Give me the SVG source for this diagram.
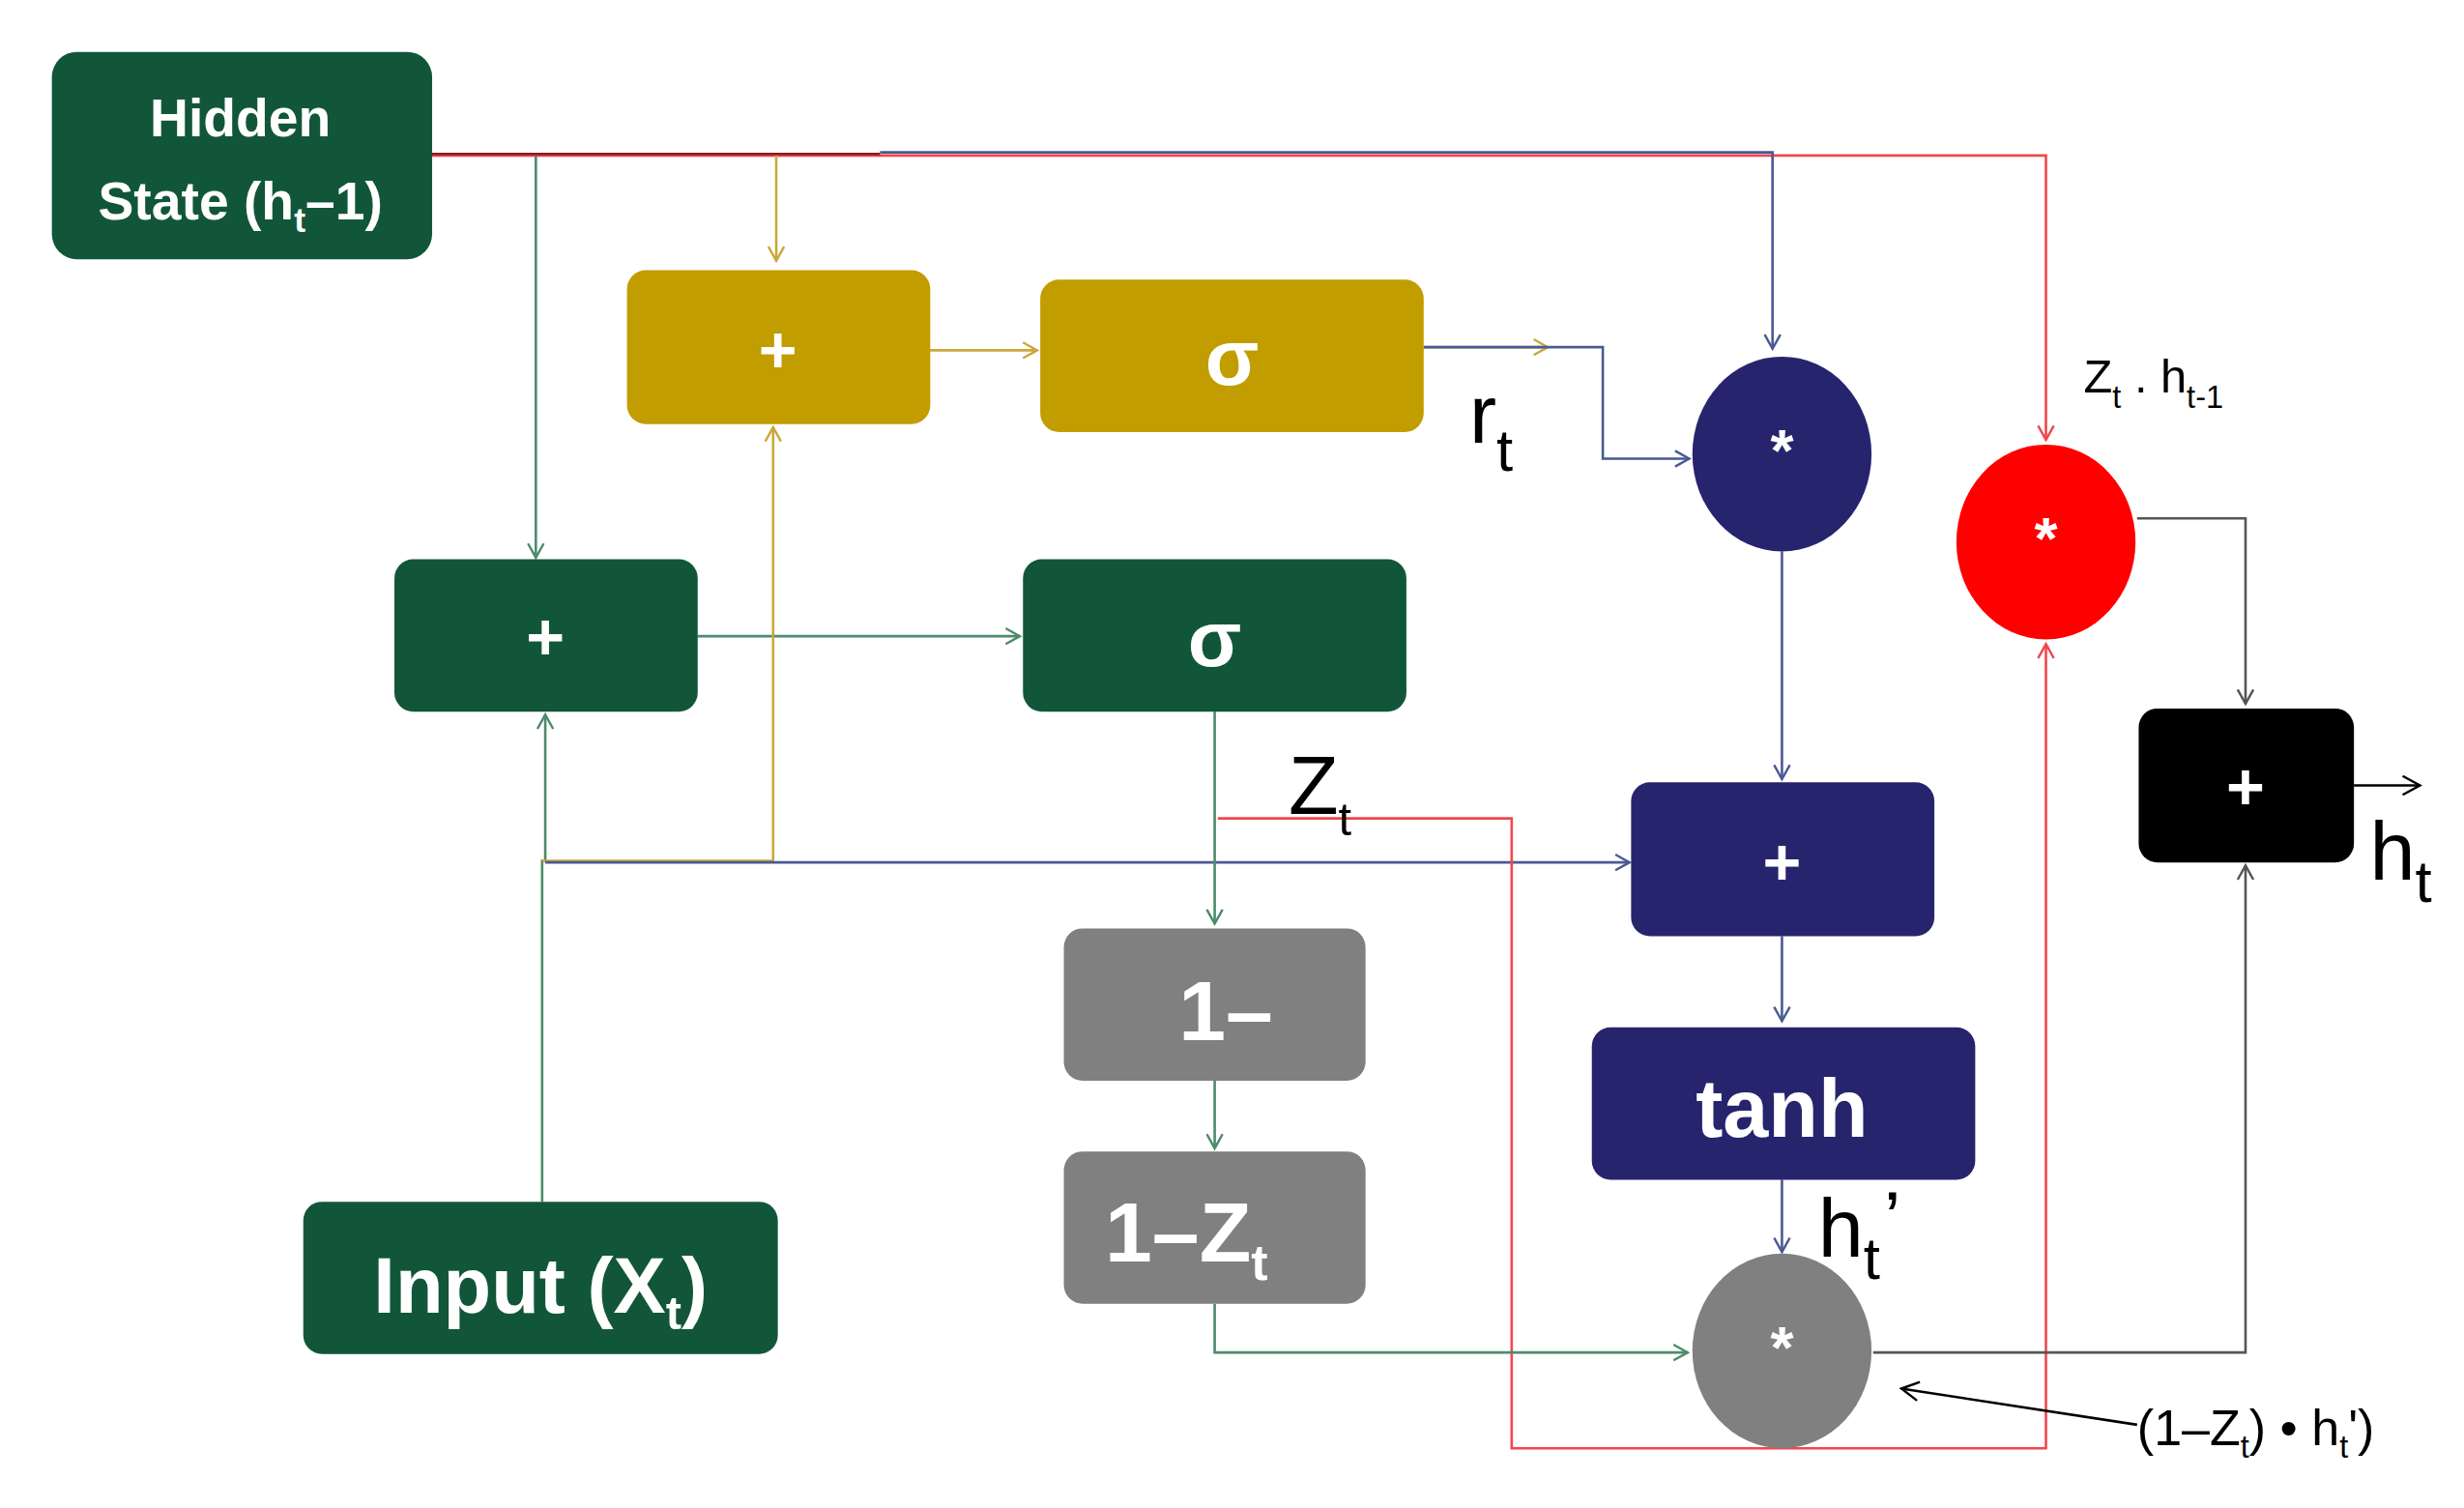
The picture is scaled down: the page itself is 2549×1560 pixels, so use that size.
<svg xmlns="http://www.w3.org/2000/svg" width="2549" height="1560" viewBox="0 0 2549 1560">
<style>
.t{font-family:"Liberation Sans Narrow","Liberation Sans",Arial,sans-serif;fill:#fff;text-anchor:middle;font-weight:bold}
.k{font-family:"Liberation Sans Narrow","Liberation Sans",Arial,sans-serif;fill:#000}
.c{fill:none;stroke-width:1.6}
.g{stroke:#4E8A6C}.y{stroke:#C9A93A}.n{stroke:#4A5A93}.r{stroke:#F0474C}.gr{stroke:#555}.b{stroke:#000}
</style>
<defs>
<marker id="ag" markerWidth="12" markerHeight="12" refX="10" refY="6" orient="auto" markerUnits="userSpaceOnUse"><path d="M1,1 L10,6 L1,11" fill="none" stroke="#4E8A6C" stroke-width="1.5"/></marker>
<marker id="ay" markerWidth="12" markerHeight="12" refX="10" refY="6" orient="auto" markerUnits="userSpaceOnUse"><path d="M1,1 L10,6 L1,11" fill="none" stroke="#C9A93A" stroke-width="1.5"/></marker>
<marker id="an" markerWidth="12" markerHeight="12" refX="10" refY="6" orient="auto" markerUnits="userSpaceOnUse"><path d="M1,1 L10,6 L1,11" fill="none" stroke="#4A5A93" stroke-width="1.5"/></marker>
<marker id="ar" markerWidth="12" markerHeight="12" refX="10" refY="6" orient="auto" markerUnits="userSpaceOnUse"><path d="M1,1 L10,6 L1,11" fill="none" stroke="#F0474C" stroke-width="1.5"/></marker>
<marker id="agr" markerWidth="12" markerHeight="12" refX="10" refY="6" orient="auto" markerUnits="userSpaceOnUse"><path d="M1,1 L10,6 L1,11" fill="none" stroke="#555" stroke-width="1.5"/></marker>
<marker id="ab" markerWidth="14" markerHeight="14" refX="12" refY="7" orient="auto" markerUnits="userSpaceOnUse"><path d="M1,1 L12,7 L1,13" fill="none" stroke="#000" stroke-width="1.5"/></marker>
</defs>
<rect width="2549" height="1560" fill="#fff"/>
<g transform="scale(1.6256,1.625)">
<g id="connectors">
<path class="c r" d="M275,99 H1302 V280" marker-end="url(#ar)"/>
<path class="c" d="M245,98 H560" stroke="#8A1A2A"/>
<path class="c n" d="M560,97 H1128 V222" marker-end="url(#an)"/>
<path class="c g" d="M341,99 V355" marker-end="url(#ag)"/>
<path class="c y" d="M494,99 V166" marker-end="url(#ay)"/>
<path class="c y" d="M565,223 H660" marker-end="url(#ay)"/>
<path class="c y" d="M906,221 H985" marker-end="url(#ay)"/>
<path class="c n" d="M906,221 H1020 V292 H1075" stroke="#1F2D6B" marker-end="url(#an)"/>
<path class="c g" d="M444,405 H649" marker-end="url(#ag)"/>
<path class="c g" d="M345,765 V548 H347 V455" marker-end="url(#ag)"/>
<path class="c y" d="M345,548 H492 V272" marker-end="url(#ay)"/>
<path class="c n" d="M347,549 H1037" marker-end="url(#an)"/>
<path class="c g" d="M773,453 V588" marker-end="url(#ag)"/>
<path class="c r" d="M775,521 H962 V922 H1302 V410" marker-end="url(#ar)"/>
<path class="c g" d="M773,688 V731" marker-end="url(#ag)"/>
<path class="c g" d="M773,830 V861 H1074" marker-end="url(#ag)"/>
<path class="c n" d="M1134,351 V496" marker-end="url(#an)"/>
<path class="c n" d="M1134,596 V650" marker-end="url(#an)"/>
<path class="c n" d="M1134,751 V797" marker-end="url(#an)"/>
<path class="c gr" d="M1192,861 H1429 V551" marker-end="url(#agr)"/>
<path class="c gr" d="M1360,330 H1429 V448" marker-end="url(#agr)"/>
<path class="c b" d="M1498,500 H1540" marker-end="url(#ab)"/>
<path class="c b" d="M1360,907 L1210,884" marker-end="url(#ab)"/>
</g>
<g id="hidden"><rect x="33" y="33" width="242" height="132" rx="16" fill="#12563A"/><text class="t" x="153" y="87" font-size="34">Hidden</text><text class="t" x="153" y="140" font-size="34">State (h<tspan font-size="22" dy="8">t</tspan><tspan dy="-8">–1)</tspan></text></g>
<g id="yplus"><rect x="399" y="172" width="193" height="98" rx="12" fill="#C19D00"/><text class="t" x="495" y="237" font-size="42">+</text></g>
<g id="ysig"><rect x="662" y="178" width="244" height="97" rx="12" fill="#C19D00"/><text class="t" x="784" y="245" font-size="50">σ</text></g>
<g id="gplus"><rect x="251" y="356" width="193" height="97" rx="12" fill="#12563A"/><text class="t" x="347" y="420" font-size="42">+</text></g>
<g id="gsig"><rect x="651" y="356" width="244" height="97" rx="12" fill="#12563A"/><text class="t" x="773" y="424" font-size="50">σ</text></g>
<g id="nmul"><ellipse cx="1134" cy="289" rx="57" ry="62" fill="#27246E"/><text class="t" x="1134" y="300" font-size="38">*</text></g>
<g id="rmul"><ellipse cx="1302" cy="345" rx="57" ry="62" fill="#FF0000"/><text class="t" x="1302" y="356" font-size="38">*</text></g>
<g id="nplus"><rect x="1038" y="498" width="193" height="98" rx="12" fill="#27246E"/><text class="t" x="1134" y="563" font-size="42">+</text></g>
<g id="tanh"><rect x="1013" y="654" width="244" height="97" rx="12" fill="#27246E"/><text class="t" x="1134" y="724" font-size="52">tanh</text></g>
<g id="bplus"><rect x="1361" y="451" width="137" height="98" rx="12" fill="#000"/><text class="t" x="1429" y="515" font-size="42">+</text></g>
<g id="one"><rect x="677" y="591" width="192" height="97" rx="12" fill="#808080"/><text class="t" x="780" y="662" font-size="54">1–</text></g>
<g id="onez"><rect x="677" y="733" width="192" height="97" rx="12" fill="#808080"/><text class="t" x="755" y="803" font-size="54">1–Z<tspan font-size="32" dy="12">t</tspan></text></g>
<g id="gmul"><ellipse cx="1134" cy="860" rx="57" ry="62" fill="#808080"/><text class="t" x="1134" y="871" font-size="38">*</text></g>
<g id="input"><rect x="193" y="765" width="302" height="97" rx="12" fill="#12563A"/><text class="t" x="344" y="836" font-size="50">Input (X<tspan font-size="30" dy="10">t</tspan><tspan dy="-10">)</tspan></text></g>
<g id="labels">
<text class="k" x="935" y="282" font-size="52">r<tspan font-size="38" dy="18">t</tspan></text>
<text class="k" x="820" y="518" font-size="52">Z<tspan font-size="30" dy="14">t</tspan></text>
<text class="k" x="1157" y="800" font-size="52">h<tspan font-size="38" dy="14">t</tspan></text>
<text class="k" x="1199" y="792" font-size="48">’</text>
<text class="k" x="1508" y="560" font-size="52">h<tspan font-size="38" dy="14">t</tspan></text>
<text class="k" x="1326" y="250" font-size="30">Z<tspan font-size="20" dy="10">t</tspan><tspan dy="-10"> . h</tspan><tspan font-size="20" dy="10">t-1</tspan></text>
<text class="k" x="1360" y="920" font-size="32">(1–Z<tspan font-size="20" dy="8">t</tspan><tspan dy="-8">) • h</tspan><tspan font-size="20" dy="8">t</tspan><tspan dy="-8">')</tspan></text>
</g>
</g>
</svg>
